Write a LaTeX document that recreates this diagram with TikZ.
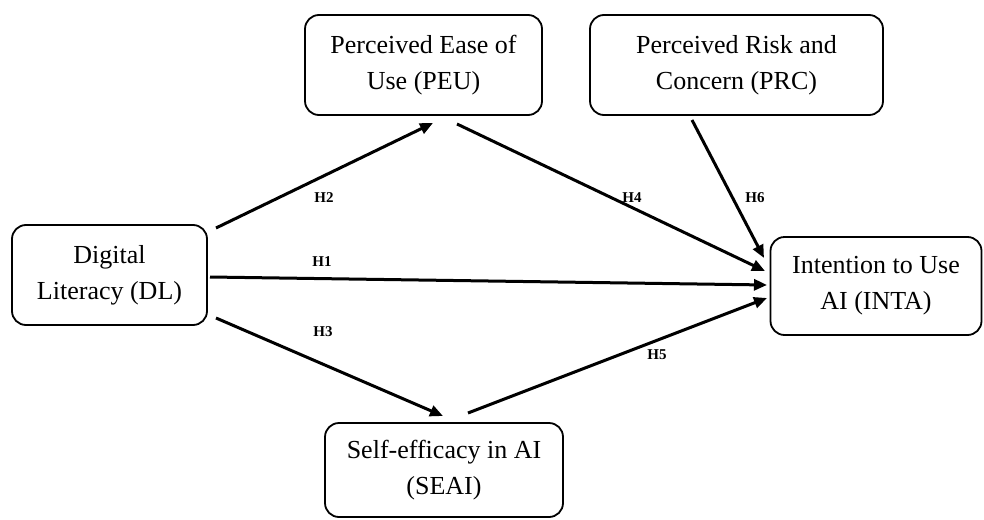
\documentclass[tikz,border=0pt]{standalone}
\usepackage{fontspec}
\setmainfont{Liberation Serif}
\usetikzlibrary{arrows.meta}
\tikzset{
  box/.style={draw=black, line width=1.8pt, rounded corners=14pt, align=center,
    font=\fontsize{26}{36}\selectfont, inner sep=0pt},
  hyp/.style={font=\fontsize{15}{18}\selectfont\bfseries, inner sep=0pt},
  path/.style={line width=3pt, -{Triangle[length=13pt,width=11pt]}, shorten >=0pt},
}
\begin{document}
\begin{tikzpicture}[x=1pt,y=-1pt]
\useasboundingbox (0,0) rectangle (984,519);
\node[box, minimum width=237pt, minimum height=100pt] (peu) at (423.5,65) {Perceived Ease of\\Use (PEU)};
\node[box, minimum width=293pt, minimum height=100pt] (prc) at (736.5,65) {Perceived Risk and\\Concern (PRC)};
\node[box, minimum width=195pt, minimum height=100pt] (dl) at (109.5,275) {Digital\\Literacy (DL)};
\node[box, minimum width=211pt, minimum height=98pt] (inta) at (876,286) {Intention to Use\\AI (INTA)};
\node[box, minimum width=238pt, minimum height=94pt] (seai) at (444,470) {Self-efficacy in AI\\(SEAI)};
% arrow ends
\coordinate (h2s) at (216,228); \coordinate (h2e) at (433,123);
\coordinate (h4s) at (457,124); \coordinate (h4e) at (765,271);
\coordinate (h6s) at (692,120); \coordinate (h6e) at (764,258);
\coordinate (h1s) at (210,277); \coordinate (h1e) at (767,285);
\coordinate (h3s) at (216,318); \coordinate (h3e) at (443,416);
\coordinate (h5s) at (468,413); \coordinate (h5e) at (767,298);
\draw[path] (h2s) -- (h2e);
\draw[path] (h4s) -- (h4e);
\draw[path] (h6s) -- (h6e);
\draw[path] (h1s) -- (h1e);
\draw[path] (h3s) -- (h3e);
\draw[path] (h5s) -- (h5e);
\node[hyp] (l2) at (324,198) {H2};
\node[hyp] (l1) at (322,262) {H1};
\node[hyp] (l3) at (323,332) {H3};
\node[hyp] (l4) at (632,198) {H4};
\node[hyp] (l6) at (755,198) {H6};
\node[hyp] (l5) at (657,355) {H5};
\end{tikzpicture}
\end{document}
